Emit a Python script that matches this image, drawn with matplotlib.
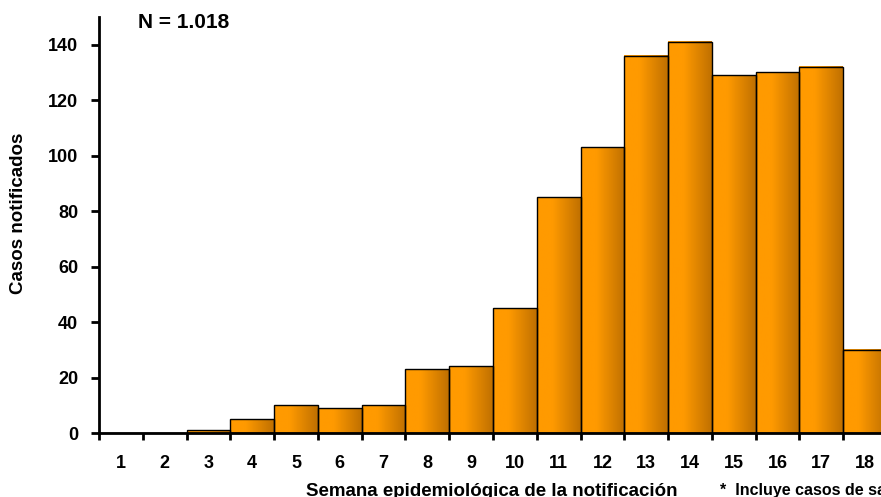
import matplotlib.pyplot as plt
import numpy as np
from matplotlib.colors import LinearSegmentedColormap

weeks = list(range(1, 19))
cases = [0, 0, 1, 5, 10, 9, 10, 23, 24, 45, 85, 103, 136, 141, 129, 130, 132, 30]
yticks = [0, 20, 40, 60, 80, 100, 120, 140]

plt.rcParams["font.family"] = ["Liberation Sans", "DejaVu Sans"]
plt.rcParams["font.weight"] = "bold"

fig = plt.figure(figsize=(8.81, 4.97), dpi=100)
# axes runs past the right edge on purpose, as in the original
ax = fig.add_axes([99 / 881, (497 - 433) / 497, 788 / 881, (433 - 17) / 497])

grad = LinearSegmentedColormap.from_list(
    "bar", [(0.0, "#ff9a00"), (0.35, "#ff9a00"), (1.0, "#c07000")])
row = np.linspace(0, 1, 64).reshape(1, -1)

for w, c in zip(weeks, cases):
    if c <= 0:
        continue
    ax.imshow(row, cmap=grad, aspect="auto", extent=(w - 0.5, w + 0.5, 0, c),
              interpolation="bicubic", zorder=2)
ax.bar(weeks, cases, width=1.0, facecolor="none", edgecolor="black",
       linewidth=1.0, zorder=3)

ax.set_xlim(0.5, 18.5)
ax.set_ylim(0, 150)
ax.set_yticks(yticks)
ax.set_yticklabels([str(t) for t in yticks], fontsize=13, fontweight="bold")
ax.set_xticks([w - 0.5 for w in weeks] + [18.5])
ax.set_xticklabels([])
ax.set_xticks(weeks, minor=True)
ax.set_xticklabels([str(w) for w in weeks], minor=True, fontsize=13,
                   fontweight="bold")
ax.tick_params(axis="x", which="major", direction="out", length=5, width=2)
ax.tick_params(axis="x", which="minor", length=0, pad=16)
ax.tick_params(axis="y", direction="out", length=6, width=2, pad=9)

for s in ["top", "right"]:
    ax.spines[s].set_visible(False)
for s in ["left", "bottom"]:
    ax.spines[s].set_linewidth(2)

fig.text(19 / 881, 1 - 213 / 497, "Casos notificados", rotation=90,
         ha="center", va="center", fontsize=13.5, fontweight="bold")
fig.text(492 / 881, 1 - 491 / 497, "Semana epidemiológica de la notificación",
         ha="center", va="center", fontsize=13.5, fontweight="bold")
# footnote is cut at the right edge in the original too
fig.text(720 / 881, 1 - 490 / 497, "*  Incluye casos de salud",
         ha="left", va="center", fontsize=11.5, fontweight="bold")
fig.text(138 / 881, 1 - 22 / 497, "N = 1.018", ha="left", va="center",
         fontsize=15, fontweight="bold")

fig.savefig("out.png", dpi=100)
